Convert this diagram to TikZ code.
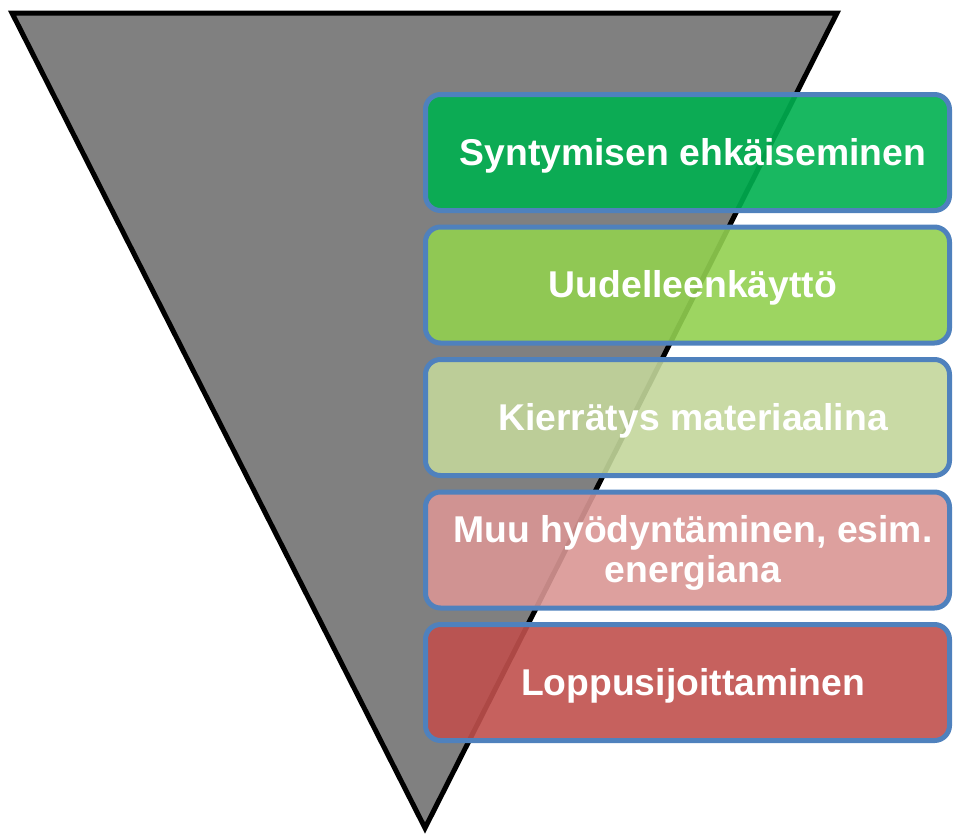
\documentclass[tikz,border=0pt]{standalone}
\usepackage{fontspec}
\setmainfont{Liberation Sans}
\definecolor{funnelgray}{HTML}{808080}
\definecolor{boxedge}{HTML}{4F81BD}
\definecolor{lvA}{HTML}{00B050}
\definecolor{lvB}{HTML}{92D050}
\definecolor{lvC}{HTML}{C3D69B}
\definecolor{lvD}{HTML}{D99694}
\definecolor{lvE}{HTML}{C0504D}
\begin{document}
\begin{tikzpicture}[x=1pt,y=-1pt,
  level/.style={draw=boxedge, line width=5pt, rounded corners=15pt,
    fill opacity=0.9, minimum width=524pt, minimum height=116pt,
    inner sep=0pt},
  leveltext/.style={text=white, inner sep=0pt, align=center,
    font=\fontsize{37.3}{40}\selectfont\bfseries},
  funnel/.style={draw=black, fill=funnelgray, line width=5pt}]
\useasboundingbox (0,0) rectangle (953,836);
% inverted triangle behind the levels
\draw[funnel] (12,13) -- (837,13) -- (425,828) -- cycle;
% waste hierarchy levels
\node[level, fill=lvA] (l1) at (687.5,152.5) {};
\node[level, fill=lvB] (l2) at (687.5,285) {};
\node[level, fill=lvC] (l3) at (687.5,417.5) {};
\node[level, fill=lvD] (l4) at (687.5,550) {};
\node[level, fill=lvE] (l5) at (687.5,682.5) {};
% level captions
\node[leveltext] (t1) at ([shift={(5.5,3)}]l1.center) {Syntymisen ehkäiseminen};
\node[leveltext] (t2) at ([shift={(5.5,3)}]l2.center) {Uudelleenkäyttö};
\node[leveltext] (t3) at ([shift={(5.5,3)}]l3.center) {Kierrätys materiaalina};
\node[leveltext] (t4) at ([shift={(5.5,3)}]l4.center) {Muu hyödyntäminen, esim.\\energiana};
\node[leveltext] (t5) at ([shift={(5.5,3)}]l5.center) {Loppusijoittaminen};
\end{tikzpicture}
\end{document}
